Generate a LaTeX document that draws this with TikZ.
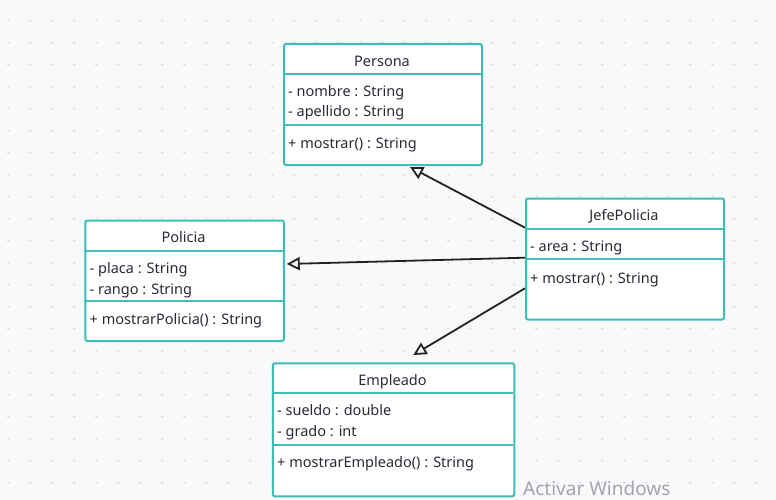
\documentclass[tikz,border=0pt]{standalone}
\usepackage{fontspec}
\setmainfont{Noto Sans}
\usetikzlibrary{arrows.meta}
\definecolor{bgc}{HTML}{F8F9FB}
\definecolor{dotc}{HTML}{D9DADF}
\definecolor{boxc}{HTML}{3DBDB6}
\definecolor{txtc}{HTML}{2A2A36}
\definecolor{linec}{HTML}{222222}
\definecolor{wmc}{HTML}{A3A5A8}
\tikzset{
  classbox/.style={draw=boxc, line width=2pt, fill=white, rounded corners=2pt, inner sep=0pt, anchor=north west},
  divider/.style={draw=boxc, line width=2pt},
  ttl/.style={anchor=base, inner sep=0pt, text=txtc, font=\fontsize{14.5}{17}\selectfont},
  mem/.style={anchor=base west, inner sep=0pt, text=txtc, font=\fontsize{14.5}{17}\selectfont},
  inherit/.style={draw=linec, line width=1.8pt, -{Triangle[open, length=13pt, width=13pt, line width=1.8pt]}},
}
\begin{document}
\begin{tikzpicture}[x=1pt,y=-1pt]
\fill[bgc] (0,0) rectangle (776,500);
\useasboundingbox (0,0) rectangle (776,500);
\foreach \i in {0,...,35} \foreach \j in {0,...,22} \fill[dotc] (8.3+22*\i, 20.7+22*\j) circle (1.2);

% Persona
\node[classbox, minimum width=198pt, minimum height=121pt] (persona) at (283,43) {};
\draw[divider] (283,74.5) -- (481,74.5);
\draw[divider] (283,125.5) -- (481,125.5);
\node[ttl] (personaT) at (382,66.5) {Persona};
\node[mem] (personaA1) at (288,96.5) {- nombre : String};
\node[mem] (personaA2) at (288,117) {- apellido : String};
\node[mem] (personaM1) at (288,148.5) {+ mostrar() : String};

% JefePolicia
\node[classbox, minimum width=198pt, minimum height=121pt] (jefe) at (525,197.5) {};
\draw[divider] (525,228.7) -- (723,228.7);
\draw[divider] (525,259.3) -- (723,259.3);
\node[ttl] (jefeT) at (624,220.5) {JefePolicia};
\node[mem] (jefeA1) at (530,251) {- area : String};
\node[mem] (jefeM1) at (530,283) {+ mostrar() : String};

% Policia
\node[classbox, minimum width=198.5pt, minimum height=120.5pt] (policia) at (84.3,219.5) {};
\draw[divider] (84.3,250.7) -- (282.8,250.7);
\draw[divider] (84.3,300.7) -- (282.8,300.7);
\node[ttl] (policiaT) at (183.5,242) {Policia};
\node[mem] (policiaA1) at (89.5,273) {- placa : String};
\node[mem] (policiaA2) at (89.5,294) {- rango : String};
\node[mem] (policiaM1) at (89.5,324) {+ mostrarPolicia() : String};

% Empleado
\node[classbox, minimum width=241.5pt, minimum height=133pt] (empleado) at (271.8,362.3) {};
\draw[divider] (271.8,392.7) -- (513.3,392.7);
\draw[divider] (271.8,445) -- (513.3,445);
\node[ttl] (empleadoT) at (392.5,385.5) {Empleado};
\node[mem] (empleadoA1) at (277,415.5) {- sueldo : double};
\node[mem] (empleadoA2) at (277,436) {- grado : int};
\node[mem] (empleadoM1) at (277,467) {+ mostrarEmpleado() : String};

% connectors
\coordinate (j1) at (525,227.7);
\coordinate (j2) at (525,257.7);
\coordinate (j3) at (525,288.3);
\coordinate (p1) at (410,167);
\coordinate (po1) at (286.7,264);
\coordinate (e1) at (413.3,355);
\draw[inherit] (j1) -- (p1);
\draw[inherit] (j2) -- (po1);
\draw[inherit] (j3) -- (e1);

% watermark
\node[anchor=base west, inner sep=0pt, text=wmc, font=\fontsize{19}{22}\selectfont] (wm) at (523,495.5) {Activar Windows};
\end{tikzpicture}
\end{document}
